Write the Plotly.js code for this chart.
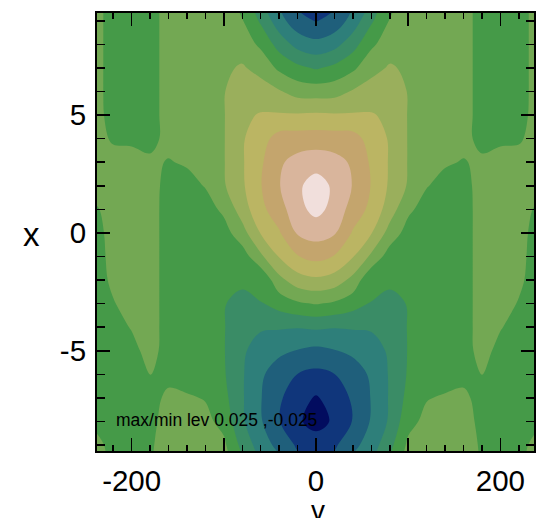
<!DOCTYPE html>
<html><head><meta charset="utf-8">
<script src="https://cdn.plot.ly/plotly-3.0.1.min.js"></script>
<style>html,body{margin:0;padding:0;background:#fff;overflow:hidden}</style>
</head><body><div id="chart" style="width:544px;height:518px"></div>
<script>
// velocity grid (horizontal axis "v") and position grid (vertical axis "x")
const vValues = [-240,-220,-200,-180,-160,-140,-120,-100,-80,-60,-40,-20,0,20,40,60,80,100,120,140,160,180,200,220,240];
const xValues = [-10,-9,-8,-7,-6,-5,-4,-3,-2,-1,0,1,2,3,4,5,6,7,8,9,10];

// perturbation field, one row per x value (x = -10 ... 10)
const fRows = [
 [0.002,-0.001,-0.0015,-0.00025,0.00175,0.002,0.002,0.0025,-0.003,-0.009,-0.0125,-0.0175,-0.0175,-0.0175,-0.0125,-0.009,-0.003,0.0025,0.002,0.002,0.00175,-0.00025,-0.0015,-0.001,0.002],
 [0.0015,-0.0015,-0.0015,-0.0005,0.00175,0.00175,0.00175,0.001,-0.0065,-0.0125,-0.0165,-0.02075,-0.0215,-0.02075,-0.0165,-0.0125,-0.0065,0.001,0.00175,0.00175,0.00175,-0.0005,-0.0015,-0.0015,0.0015],
 [-0.001,-0.00175,-0.0015,-0.001,0.0015,0.0015,0.00125,-0.0015,-0.00925,-0.0145,-0.01975,-0.024,-0.0275,-0.024,-0.01975,-0.0145,-0.00925,-0.0015,0.00125,0.0015,0.0015,-0.001,-0.0015,-0.00175,-0.001],
 [-0.00175,-0.00175,-0.0015,-0.00125,0.00075,0.0005,-0.00025,-0.0035,-0.0095,-0.01475,-0.01925,-0.023,-0.0255,-0.023,-0.01925,-0.01475,-0.0095,-0.0035,-0.00025,0.0005,0.00075,-0.00125,-0.0015,-0.00175,-0.00175],
 [-0.00175,-0.00175,-0.0015,0.0001,-0.001,-0.002,-0.00225,-0.0045,-0.0095,-0.01425,-0.0175,-0.0201,-0.02125,-0.0201,-0.0175,-0.01425,-0.0095,-0.0045,-0.00225,-0.002,-0.001,0.0001,-0.0015,-0.00175,-0.00175],
 [-0.00175,-0.00175,-0.00125,0.0015,-0.00175,-0.002,-0.00225,-0.00475,-0.009,-0.013,-0.014,-0.01525,-0.01625,-0.01525,-0.014,-0.013,-0.009,-0.00475,-0.00225,-0.002,-0.00175,0.0015,-0.00125,-0.00175,-0.00175],
 [-0.00175,-0.0015,0.00025,0.00175,-0.00175,-0.002,-0.00225,-0.00475,-0.008,-0.00925,-0.0095,-0.00975,-0.00925,-0.00975,-0.0095,-0.00925,-0.008,-0.00475,-0.00225,-0.002,-0.00175,0.00175,0.00025,-0.0015,-0.00175],
 [-0.00175,-0.00025,0.0015,0.00175,-0.00175,-0.002,-0.00225,-0.00475,-0.0065,-0.0051,-0.003,-0.00075,0.00025,-0.00075,-0.003,-0.0051,-0.0065,-0.00475,-0.00225,-0.002,-0.00175,0.00175,0.0015,-0.00025,-0.00175],
 [-0.00175,0.00075,0.00175,0.00175,-0.00175,-0.002,-0.00225,-0.00425,-0.004,-0.0045,0.0035,0.00775,0.009,0.00775,0.0035,-0.0045,-0.004,-0.00425,-0.00225,-0.002,-0.00175,0.00175,0.00175,0.00075,-0.00175],
 [-0.00175,0.00125,0.00175,0.00175,-0.00175,-0.002,-0.00225,-0.0035,-0.0025,0.004,0.01025,0.01475,0.0165,0.01475,0.01025,0.004,-0.0025,-0.0035,-0.00225,-0.002,-0.00175,0.00175,0.00175,0.00125,-0.00175],
 [-0.0015,0.0015,0.00175,0.00175,-0.00175,-0.002,-0.00225,-0.002,0.003,0.01025,0.0145,0.0205,0.022,0.0205,0.0145,0.01025,0.003,-0.002,-0.00225,-0.002,-0.00175,0.00175,0.00175,0.0015,-0.0015],
 [-0.0005,0.0015,0.002,0.00175,-0.00175,-0.002,-0.002,0.001,0.0075,0.01375,0.01775,0.0235,0.0265,0.0235,0.01775,0.01375,0.0075,0.001,-0.002,-0.002,-0.00175,0.00175,0.002,0.0015,-0.0005],
 [0.0015,0.00175,0.002,0.00175,-0.0015,-0.0015,0.00025,0.0045,0.00925,0.01475,0.01975,0.024,0.0275,0.024,0.01975,0.01475,0.00925,0.0045,0.00025,-0.0015,-0.0015,0.00175,0.002,0.00175,0.0015],
 [0.0015,0.0015,0.0015,0.00075,-0.00025,0.0005,0.00225,0.00475,0.0095,0.01425,0.01925,0.02175,0.02275,0.02175,0.01925,0.01425,0.0095,0.00475,0.00225,0.0005,-0.00025,0.00075,0.0015,0.0015,0.0015],
 [0.0015,-0.0005,-0.00075,-0.00125,0.00125,0.002,0.00275,0.00475,0.0095,0.013,0.017,0.01725,0.0175,0.01725,0.017,0.013,0.0095,0.00475,0.00275,0.002,0.00125,-0.00125,-0.00075,-0.0005,0.0015],
 [0.0015,-0.0015,-0.00175,-0.00175,0.00175,0.002,0.003,0.00475,0.009,0.0104,0.0105,0.0105,0.01075,0.0105,0.0105,0.0104,0.009,0.00475,0.003,0.002,0.00175,-0.00175,-0.00175,-0.0015,0.0015],
 [0.0015,-0.00175,-0.00175,-0.00175,0.00175,0.002,0.003,0.00475,0.008,0.007,0.0055,0.003,0.00275,0.003,0.0055,0.007,0.008,0.00475,0.003,0.002,0.00175,-0.00175,-0.00175,-0.00175,0.0015],
 [0.0015,-0.00175,-0.00175,-0.00175,0.00175,0.002,0.003,0.00425,0.0055,0.0035,-0.001,-0.00375,-0.0055,-0.00375,-0.001,0.0035,0.0055,0.00425,0.003,0.002,0.00175,-0.00175,-0.00175,-0.00175,0.0015],
 [0.0015,-0.00175,-0.00175,-0.00175,0.00175,0.002,0.00275,0.0035,0.00275,-0.001,-0.007,-0.01175,-0.0135,-0.01175,-0.007,-0.001,0.00275,0.0035,0.00275,0.002,0.00175,-0.00175,-0.00175,-0.00175,0.0015],
 [0.0015,-0.00175,-0.00175,-0.00175,0.00175,0.002,0.0025,0.00275,0.00025,-0.00575,-0.013,-0.01825,-0.02025,-0.01825,-0.013,-0.00575,0.00025,0.00275,0.0025,0.002,0.00175,-0.00175,-0.00175,-0.00175,0.0015],
 [0.0015,-0.00175,-0.00175,-0.00175,0.00175,0.002,0.00225,0.002,-0.002,-0.01025,-0.0165,-0.022,-0.02525,-0.022,-0.0165,-0.01025,-0.002,0.002,0.00225,0.002,0.00175,-0.00175,-0.00175,-0.00175,0.0015]
];

// contour levels (max/min lev 0.025, -0.025)
const levelMin = -0.025;
const levelMax = 0.025;
const levelStep = 0.005;

// fill colours, lowest band to highest band
const bandColors = ['#020c5f','#10367b','#1f5f7b','#2e7f7a','#3a8c66','#459a48',
                    '#73a853','#9aaf5c','#bbb563','#c4a56d','#d9b59c','#f1dfdc'];

const vTickVals = [-200,-100,0,100,200];
const vTickText = ['-200','','0','','200'];
const xTickVals = [-5,0,5];
const xTickText = ['-5','0','5'];
const annotationText = 'max/min lev 0.025 ,-0.025';

const colorscale = bandColors.map((c,i)=>[i/(bandColors.length-1), c]);

const trace = {
  type:'contour', x:vValues, y:xValues, z:fRows,
  autocontour:false,
  contours:{start:levelMin, end:levelMax, size:levelStep, coloring:'fill', showlines:false},
  line:{width:0},
  colorscale:colorscale, showscale:false, hoverinfo:'skip'
};

const tickFont = {family:'Liberation Sans, Arial, Helvetica, sans-serif', size:29.5, color:'#000'};
const axisCommon = {
  ticks:'inside', ticklen:13, tickwidth:1.5, tickcolor:'#000',
  showline:true, linecolor:'#000', linewidth:2, mirror:'ticks',
  showgrid:false, zeroline:false, tickfont:tickFont, tickmode:'array'
};

const layout = {
  width:544, height:518,
  margin:{l:97, r:10, t:13, b:67, pad:0},
  paper_bgcolor:'#fff', plot_bgcolor:'#fff',
  showlegend:false,
  xaxis:Object.assign({}, axisCommon, {
    range:[-237.6, 236.5], tickvals:vTickVals, ticktext:vTickText,
    ticklabelstandoff:3,
    minor:{dtick:20, tick0:0, ticks:'inside', ticklen:6, tickwidth:1.5, tickcolor:'#000', showgrid:false}
  }),
  yaxis:Object.assign({}, axisCommon, {
    range:[-9.25, 9.33], tickvals:xTickVals, ticktext:xTickText,
    ticklabelstandoff:3,
    minor:{dtick:1, tick0:0, ticks:'inside', ticklen:8, tickwidth:1.5, tickcolor:'#000', showgrid:false}
  }),
  annotations:[
    {text:annotationText, xref:'paper', yref:'paper', x:0.039, y:0.07, xanchor:'left', yanchor:'middle',
     showarrow:false, font:{family:'Liberation Sans, Arial, sans-serif', size:17.5, color:'#000'}},
    {text:'x', xref:'paper', yref:'paper', x:-0.151, y:0.494, xanchor:'center', yanchor:'middle',
     showarrow:false, font:{family:'Liberation Sans, Arial, sans-serif', size:33, color:'#000'}},
    {text:'v', xref:'paper', yref:'paper', x:0.5057, y:-0.136, xanchor:'center', yanchor:'middle',
     showarrow:false, font:{family:'Liberation Sans, Arial, sans-serif', size:28, color:'#000'}}
  ]
};

Plotly.newPlot('chart', [trace], layout, {staticPlot:true, displayModeBar:false});
</script>
</body></html>
